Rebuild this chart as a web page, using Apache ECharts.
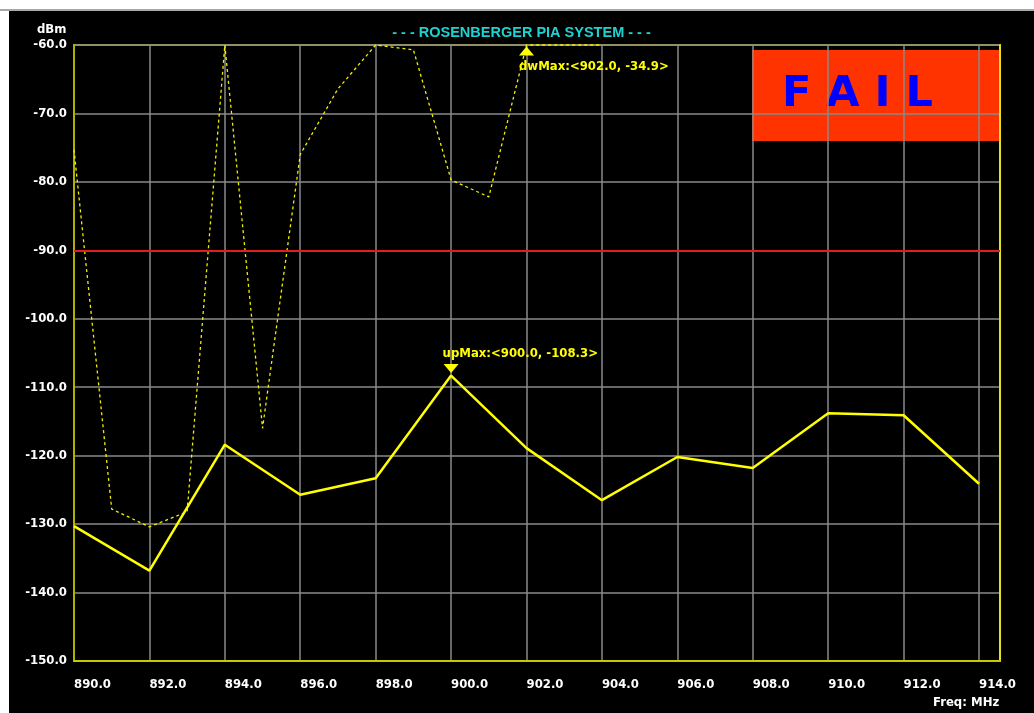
<!DOCTYPE html>
<html>
<head>
<meta charset="utf-8">
<script src="https://cdn.jsdelivr.net/npm/echarts@6/dist/echarts.min.js"></script>
<style>
html,body{margin:0;padding:0;background:#ffffff;width:1034px;height:713px;overflow:hidden;}
#topline{position:absolute;left:0;top:9px;width:1034px;height:2px;background:#a8a8a8;}
#chart{position:absolute;left:9px;top:11px;width:1025px;height:702px;background:#000000;}
</style>
</head>
<body>
<div id="topline"></div>
<div id="chart"></div>
<script>
// ---- data ----
const titleText = '- - - ROSENBERGER PIA SYSTEM - - -';
const yUnit = 'dBm';
const xUnit = 'Freq: MHz';
const limitLevel = -90;
const upFreq  = [890, 892, 894, 896, 898, 900, 902, 904, 906, 908, 910, 912, 914];
const upLevel = [-130.3, -136.8, -118.4, -125.7, -123.3, -108.3, -118.9, -126.5, -120.2, -121.8, -113.8, -114.1, -124.1];
const dwFreq  = [890, 891, 892, 893, 894, 895, 896, 897, 898, 899, 900, 901, 902, 903, 904];
const dwLevel = [-75.3, -127.8, -130.4, -128.2, -60.0, -116.0, -76.0, -66.4, -60.0, -60.7, -79.7, -82.2, -60.0, -60.0, -60.0];
const upMax = {freq: 900.0, level: -108.3, text: 'upMax:<900.0, -108.3>'};
const dwMax = {freq: 902.0, level: -60.0, text: 'dwMax:<902.0, -34.9>'};
const verdict = 'F A I L';

const axisFont = {color: '#ffffff', fontFamily: '"DejaVu Sans Condensed","DejaVu Sans",sans-serif', fontWeight: 'bold', fontSize: 13};
const markFont = {color: '#FFFF00', fontFamily: '"DejaVu Sans Condensed","DejaVu Sans",sans-serif', fontWeight: 'bold', fontSize: 13};

const chart = echarts.init(document.getElementById('chart'), null, {renderer: 'canvas'});
chart.setOption({
  backgroundColor: '#000000',
  animation: false,
  title: [
    {text: titleText, left: 'center', top: 14, padding: 0,
     textStyle: {color: '#1ED2D2', fontFamily: '"Liberation Sans",Arial,sans-serif', fontWeight: 'bold', fontSize: 14.5}},
    {text: yUnit, left: 28, top: 12, padding: 0, textStyle: axisFont},
    {text: xUnit, left: 924, top: 685, padding: 0, textStyle: axisFont}
  ],
  grid: {left: 65, top: 34, right: 34, bottom: 52, show: true, borderColor: '#A8A800', borderWidth: 2, backgroundColor: '#000000'},
  xAxis: {
    type: 'value', min: 890, max: 914.557, interval: 2,
    axisLine: {show: true, lineStyle: {color: '#C8C800', width: 2}},
    axisTick: {show: false},
    splitLine: {show: true, lineStyle: {color: '#8A8A8A', width: 1.5}},
    axisLabel: Object.assign({margin: 17, align: 'left', showMaxLabel: false,
      formatter: v => (Math.abs(v - Math.round(v)) < 1e-6 ? v.toFixed(1) : '')}, axisFont)
  },
  yAxis: [{
    type: 'value', min: -150, max: -60, interval: 10,
    axisLine: {show: true, lineStyle: {color: '#B0B000', width: 2}},
    axisTick: {show: false},
    splitLine: {show: true, lineStyle: {color: '#8A8A8A', width: 1.5}},
    axisLabel: Object.assign({margin: 7, formatter: v => v.toFixed(1)}, axisFont)
  }, {
    type: 'value', min: -150, max: -60, interval: 10, position: 'right',
    axisLine: {show: true, lineStyle: {color: '#FFFF00', width: 1.5}},
    axisTick: {show: false}, axisLabel: {show: false}, splitLine: {show: false}
  }],
  series: [
    {
      name: 'dw', type: 'line', clip: false, symbol: 'none',
      data: dwFreq.map((f, i) => [f, dwLevel[i]]),
      lineStyle: {color: '#F0F000', width: 1.3, type: [3, 3]},
      markPoint: {
        symbol: 'triangle', symbolSize: [15, 9], symbolOffset: [0, 6],
        itemStyle: {color: '#FFFF00'},
        label: Object.assign({show: true, position: [0, 14], formatter: () => dwMax.text}, markFont),
        data: [{coord: [dwMax.freq, dwMax.level]}]
      },
      z: 3
    },
    {
      name: 'up', type: 'line', symbol: 'none',
      data: upFreq.map((f, i) => [f, upLevel[i]]),
      lineStyle: {color: '#FFFF00', width: 2.5},
      markPoint: {
        symbol: 'path://M0,0 L10,0 L5,6 Z', symbolSize: [15, 9], symbolOffset: [0, -7], symbolKeepAspect: false,
        itemStyle: {color: '#FFFF00'},
        label: Object.assign({show: true, position: [-1, -17], formatter: () => upMax.text}, markFont),
        data: [{coord: [upMax.freq, upMax.level]}]
      },
      markLine: {
        silent: true, symbol: 'none', animation: false,
        label: {show: false},
        lineStyle: {color: '#E01E1E', width: 2, type: 'solid'},
        data: [{yAxis: limitLevel}]
      },
      z: 4
    }
  ],
  graphic: [{
    type: 'group', left: 743, top: 39,
    children: [
      {type: 'rect', shape: {x: 0, y: 0, width: 247, height: 91}, style: {fill: '#FF3300'}},
      {type: 'text', x: 30, y: 45, style: {text: verdict, fill: '#0000FF', font: 'bold 43px "DejaVu Sans", sans-serif', verticalAlign: 'middle', align: 'left'}}
    ]
  }]
});
</script>
</body>
</html>
